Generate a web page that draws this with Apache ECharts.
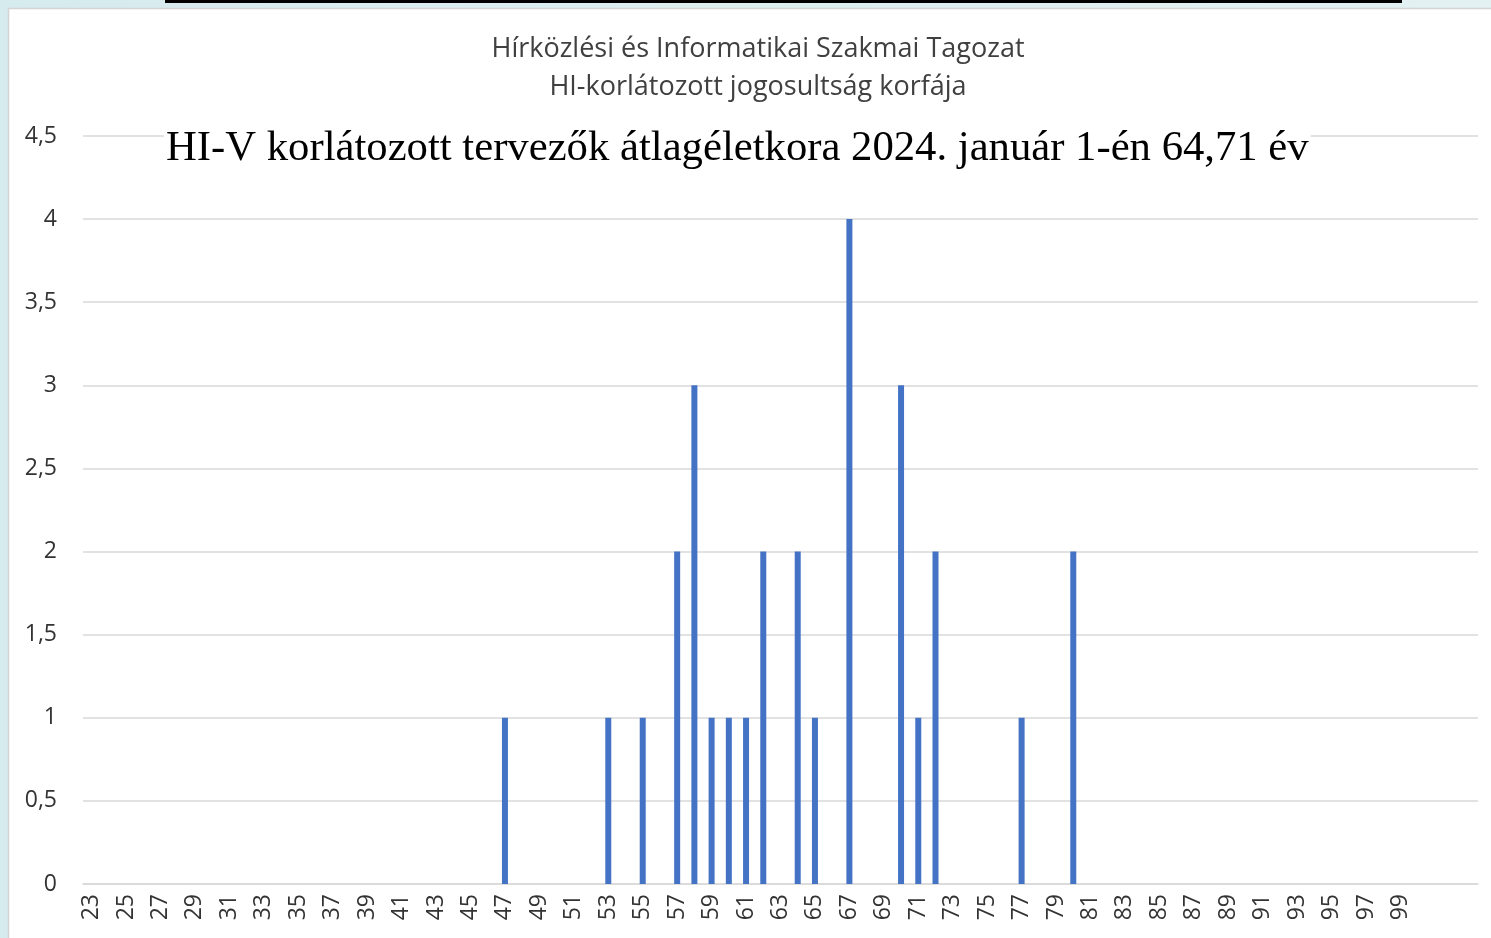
<!DOCTYPE html>
<html><head><meta charset="utf-8">
<script src="https://cdn.jsdelivr.net/npm/echarts@6/dist/echarts.min.js"></script>
<style>html,body{margin:0;padding:0;background:#dcecef;}#c{width:1491px;height:938px;}</style>
</head><body><div id="c"></div>
<script>
const categories = ['23','24','25','26','27','28','29','30','31','32','33','34','35','36','37','38','39','40','41','42','43','44','45','46','47','48','49','50','51','52','53','54','55','56','57','58','59','60','61','62','63','64','65','66','67','68','69','70','71','72','73','74','75','76','77','78','79','80','81','82','83','84','85','86','87','88','89','90','91','92','93','94','95','96','97','98','99','','','',''];
const barAges = ['47','53','55','57','58','59','60','61','62','64','65','67','70','71','72','77','80'];
const barCounts = [1,1,1,2,3,1,1,1,2,2,1,4,3,1,2,1,2];
const yTicks = [0,0.5,1,1.5,2,2.5,3,3.5,4,4.5];
const titleLines = ['Hírközlési és Informatikai Szakmai Tagozat','HI-korlátozott jogosultság korfája'];
const subTitle = 'HI-V korlátozott tervezők átlagéletkora 2024. január 1-én 64,71 év';

const values = categories.map(c => { const i = barAges.indexOf(c); return i >= 0 ? barCounts[i] : null; });
const chart = echarts.init(document.getElementById('c'));
chart.setOption({
  animation:false,
  backgroundColor:'transparent',
  graphic:[
    {type:'rect', z:-10, shape:{x:0,y:0,width:1491,height:938}, style:{fill:{type:'linear',x:0,y:0,x2:1,y2:0,colorStops:[{offset:0,color:'#d6ebee'},{offset:1,color:'#e3f1f3'}]}}},
    {type:'rect', z:-9, shape:{x:8.5,y:8.5,width:1490,height:940}, style:{fill:'#ffffff', stroke:'#d4d4d4', lineWidth:1.5}},
    {type:'rect', z:-8, shape:{x:165,y:0,width:1237,height:3}, style:{fill:'#000000'}},
    {type:'text', z:50, x:758, y:49, style:{text:titleLines[0], fontSize:27, fontFamily:'Open Sans', fill:'#404040', align:'center', verticalAlign:'middle'}},
    {type:'text', z:50, x:758, y:87, style:{text:titleLines[1], fontSize:27, fontFamily:'Open Sans', fill:'#404040', align:'center', verticalAlign:'middle'}},
    {type:'text', z:50, x:164, y:149, style:{text:subTitle, fontSize:42.7, fontFamily:'Liberation Serif', fill:'#000000', align:'left', verticalAlign:'middle', backgroundColor:'#ffffff', padding:[0,2]}}
  ],
  grid:{left:83, right:13, top:136, bottom:54, containLabel:false},
  xAxis:{type:'category', data:categories, boundaryGap:true,
    axisLine:{show:true, lineStyle:{color:'#d9d9d9', width:1.5}}, axisTick:{show:false},
    axisLabel:{interval:1, rotate:90, fontSize:23, fontFamily:'Open Sans', color:'#333333', margin:10}},
  yAxis:{type:'value', min:0, max:4.5, interval:0.5,
    axisLine:{show:false}, axisTick:{show:false},
    splitLine:{lineStyle:{color:'#d9d9d9', width:1.5}},
    axisLabel:{fontSize:23, fontFamily:'Open Sans', color:'#333333', margin:26, formatter:v=>String(v).replace('.',',')}},
  series:[{type:'bar', data:values, barWidth:6, itemStyle:{color:'#4472c4'}}]
});
</script></body></html>
